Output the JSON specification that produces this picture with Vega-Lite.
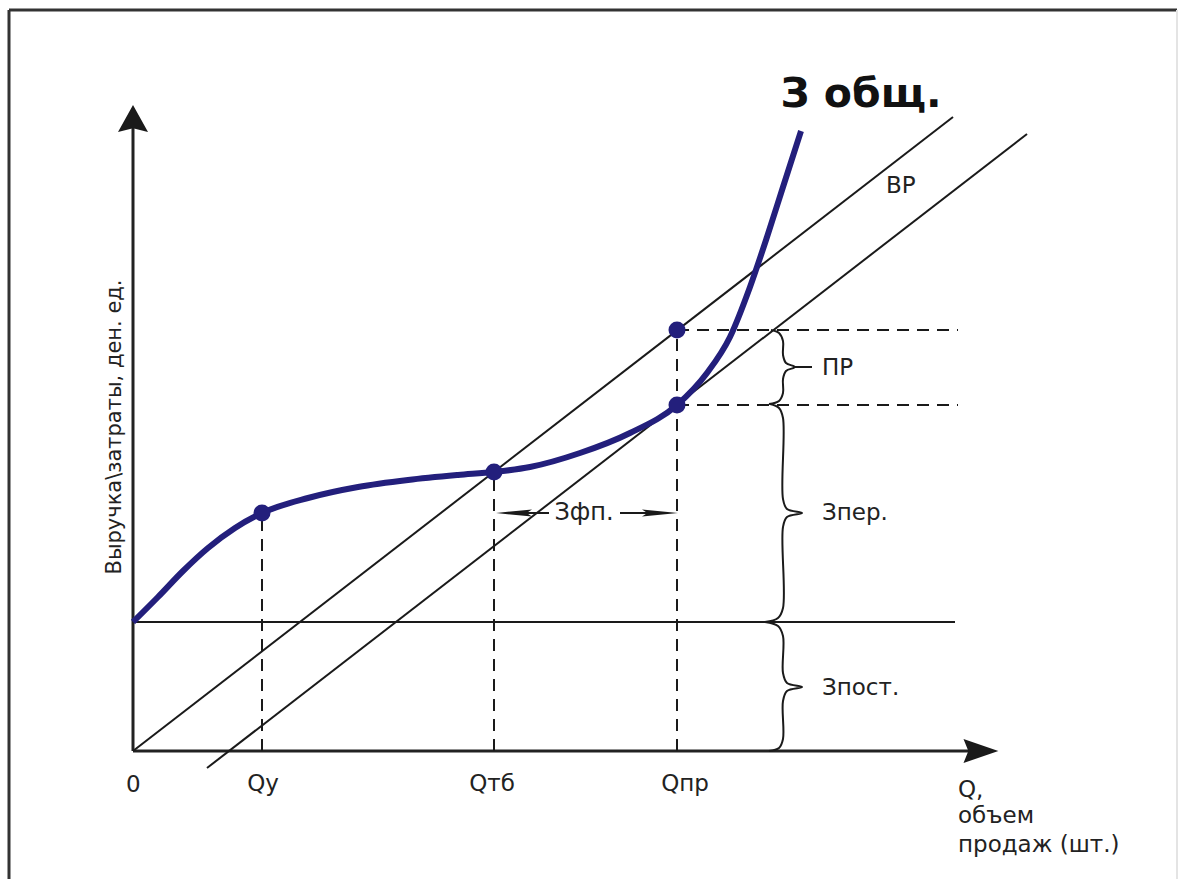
{
  "$schema": "https://vega.github.io/schema/vega-lite/v6.json",
  "width": 1181,
  "height": 884,
  "padding": 0,
  "autosize": {"type": "fit", "contains": "padding"},
  "background": "white",
  "config": {"view": {"stroke": null}},
  "datasets": {
    "rules": [
      {"kind": "frame", "x": -124, "y": 741, "x2": 1044, "y2": 741},
      {"kind": "frame", "x": -124, "y": 741, "x2": -124, "y2": -128},
      {"kind": "frameLight", "x": 1044, "y": 741, "x2": 1044, "y2": -128},
      {"kind": "axis", "x": 0, "y": 0, "x2": 0, "y2": 626},
      {"kind": "axis", "x": 0, "y": 0, "x2": 842, "y2": 0},
      {"kind": "thin", "x": 0, "y": 0, "x2": 820, "y2": 634},
      {"kind": "thin", "x": 74, "y": -17, "x2": 894, "y2": 617},
      {"kind": "thin", "x": 0, "y": 129, "x2": 822, "y2": 129},
      {"kind": "thin", "x": 375, "y": 238, "x2": 416, "y2": 238},
      {"kind": "thin", "x": 487, "y": 238, "x2": 533, "y2": 238},
      {"kind": "thin", "x": 660, "y": 384, "x2": 679, "y2": 384},
      {"kind": "dash", "x": 129, "y": 0, "x2": 129, "y2": 238},
      {"kind": "dash", "x": 361, "y": 0, "x2": 361, "y2": 279},
      {"kind": "dash", "x": 544, "y": 0, "x2": 544, "y2": 421},
      {"kind": "dash", "x": 544, "y": 421, "x2": 825, "y2": 421},
      {"kind": "dash", "x": 544, "y": 346, "x2": 825, "y2": 346}
    ],
    "curve": [
      {"x": 0, "y": 129},
      {"x": 25, "y": 154},
      {"x": 50, "y": 180},
      {"x": 75, "y": 203},
      {"x": 102, "y": 223},
      {"x": 129, "y": 238},
      {"x": 175, "y": 253},
      {"x": 225, "y": 264},
      {"x": 275, "y": 271},
      {"x": 325, "y": 276},
      {"x": 361, "y": 279},
      {"x": 397, "y": 284},
      {"x": 447, "y": 298},
      {"x": 497, "y": 318},
      {"x": 544, "y": 346},
      {"x": 574, "y": 378},
      {"x": 597, "y": 414},
      {"x": 617, "y": 464},
      {"x": 634, "y": 514},
      {"x": 650, "y": 564},
      {"x": 668, "y": 620}
    ],
    "dots": [
      {"x": 129, "y": 238},
      {"x": 361, "y": 279},
      {"x": 544, "y": 346},
      {"x": 544, "y": 421}
    ],
    "braces": [
      {"b": "ПР", "i": 1, "x": 638, "y": 421},
      {"b": "ПР", "i": 2, "x": 646, "y": 418},
      {"b": "ПР", "i": 3, "x": 650, "y": 410},
      {"b": "ПР", "i": 4, "x": 650, "y": 396},
      {"b": "ПР", "i": 5, "x": 653, "y": 388},
      {"b": "ПР", "i": 6, "x": 662, "y": 384},
      {"b": "ПР", "i": 7, "x": 653, "y": 380},
      {"b": "ПР", "i": 8, "x": 650, "y": 372},
      {"b": "ПР", "i": 9, "x": 650, "y": 358},
      {"b": "ПР", "i": 10, "x": 646, "y": 350},
      {"b": "ПР", "i": 11, "x": 636, "y": 347},
      {"b": "Зпер.", "i": 1, "x": 637, "y": 347},
      {"b": "Зпер.", "i": 2, "x": 646, "y": 343},
      {"b": "Зпер.", "i": 3, "x": 650, "y": 333},
      {"b": "Зпер.", "i": 4, "x": 650, "y": 252},
      {"b": "Зпер.", "i": 5, "x": 654, "y": 242},
      {"b": "Зпер.", "i": 6, "x": 669, "y": 238},
      {"b": "Зпер.", "i": 7, "x": 654, "y": 234},
      {"b": "Зпер.", "i": 8, "x": 650, "y": 224},
      {"b": "Зпер.", "i": 9, "x": 650, "y": 143},
      {"b": "Зпер.", "i": 10, "x": 645, "y": 133},
      {"b": "Зпер.", "i": 11, "x": 632, "y": 129},
      {"b": "Зпост.", "i": 1, "x": 632, "y": 129},
      {"b": "Зпост.", "i": 2, "x": 645, "y": 125},
      {"b": "Зпост.", "i": 3, "x": 650, "y": 115},
      {"b": "Зпост.", "i": 4, "x": 650, "y": 78},
      {"b": "Зпост.", "i": 5, "x": 654, "y": 68},
      {"b": "Зпост.", "i": 6, "x": 669, "y": 64},
      {"b": "Зпост.", "i": 7, "x": 654, "y": 60},
      {"b": "Зпост.", "i": 8, "x": 650, "y": 50},
      {"b": "Зпост.", "i": 9, "x": 650, "y": 12},
      {"b": "Зпост.", "i": 10, "x": 646, "y": 3},
      {"b": "Зпост.", "i": 11, "x": 636, "y": 0}
    ],
    "textLeft": [
      {"x": 753, "y": 558, "t": "ВР"},
      {"x": 825, "y": -46, "t": "Q,"},
      {"x": 825, "y": -72, "t": "объем"},
      {"x": 825, "y": -101, "t": "продаж (шт.)"},
      {"x": -7, "y": -41, "t": "0"}
    ],
    "textCenter": [
      {"x": 130, "y": -40, "t": "Qy"},
      {"x": 359, "y": -40, "t": "Qтб"},
      {"x": 552, "y": -40, "t": "Qпр"}
    ],
    "textMiddle": [
      {"x": 689, "y": 383, "t": "ПР"},
      {"x": 689, "y": 238, "t": "Зпер."},
      {"x": 689, "y": 63, "t": "Зпост."}
    ],
    "textMid": [
      {"x": 451, "y": 238, "t": "Зфп."}
    ],
    "title": [
      {"x": 728, "y": 644, "t": "З общ."}
    ],
    "ytitle": [
      {"x": -18, "y": 324, "t": "Выручка\\затраты, ден. ед."}
    ]
  },
  "encoding": {
    "x": {"field": "x", "type": "quantitative", "scale": {"domain": [-133, 1048], "nice": false, "zero": false}, "axis": null},
    "y": {"field": "y", "type": "quantitative", "scale": {"domain": [-133, 751], "nice": false, "zero": false}, "axis": null}
  },
  "layer": [
    {
      "data": {"name": "rules"},
      "transform": [{"filter": "datum.kind === 'frame'"}],
      "mark": {"type": "rule", "color": "#333333", "strokeWidth": 3},
      "encoding": {"x2": {"field": "x2"}, "y2": {"field": "y2"}}
    },
    {
      "data": {"name": "rules"},
      "transform": [{"filter": "datum.kind === 'frameLight'"}],
      "mark": {"type": "rule", "color": "#e4e4e4", "strokeWidth": 2},
      "encoding": {"x2": {"field": "x2"}, "y2": {"field": "y2"}}
    },
    {
      "data": {"name": "rules"},
      "transform": [{"filter": "datum.kind === 'axis'"}],
      "mark": {"type": "rule", "color": "#222222", "strokeWidth": 3},
      "encoding": {"x2": {"field": "x2"}, "y2": {"field": "y2"}}
    },
    {
      "data": {"name": "rules"},
      "transform": [{"filter": "datum.kind === 'thin'"}],
      "mark": {"type": "rule", "color": "#1a1a1a", "strokeWidth": 2},
      "encoding": {"x2": {"field": "x2"}, "y2": {"field": "y2"}}
    },
    {
      "data": {"name": "rules"},
      "transform": [{"filter": "datum.kind === 'dash'"}],
      "mark": {"type": "rule", "color": "#1a1a1a", "strokeWidth": 2, "strokeDash": [12, 8]},
      "encoding": {"x2": {"field": "x2"}, "y2": {"field": "y2"}}
    },
    {
      "data": {"name": "braces"},
      "mark": {"type": "line", "color": "#1a1a1a", "strokeWidth": 2, "interpolate": "catmull-rom"},
      "encoding": {"detail": {"field": "b"}, "order": {"field": "i", "type": "quantitative"}}
    },
    {
      "data": {"name": "curve"},
      "mark": {"type": "line", "color": "#231f7c", "strokeWidth": 6, "interpolate": "monotone", "strokeCap": "butt"}
    },
    {
      "data": {"name": "dots"},
      "mark": {"type": "circle", "color": "#231f7c", "size": 290, "opacity": 1}
    },
    {
      "data": {"values": [{"x": 0, "y": 631}]},
      "mark": {"type": "point", "shape": "M0,-1L1,0.8L0,0.55L-1,0.8Z", "size": 900, "filled": true, "color": "#1a1a1a", "opacity": 1}
    },
    {
      "data": {"values": [{"x": 846, "y": 0}]},
      "mark": {"type": "point", "shape": "M1,0L-0.8,-0.62L-0.55,0L-0.8,0.62Z", "size": 1500, "filled": true, "color": "#1a1a1a", "opacity": 1}
    },
    {
      "data": {"values": [{"x": 381, "y": 238}]},
      "mark": {"type": "point", "shape": "M-1,0L1,-0.2L0.7,0L1,0.2Z", "size": 1296, "filled": true, "color": "#1a1a1a", "opacity": 1}
    },
    {
      "data": {"values": [{"x": 527, "y": 238}]},
      "mark": {"type": "point", "shape": "M1,0L-1,-0.2L-0.7,0L-1,0.2Z", "size": 1296, "filled": true, "color": "#1a1a1a", "opacity": 1}
    },
    {
      "data": {"name": "textLeft"},
      "mark": {"type": "text", "align": "left", "baseline": "alphabetic", "font": "DejaVu Sans", "fontSize": 23, "color": "#222222"},
      "encoding": {"text": {"field": "t"}}
    },
    {
      "data": {"name": "textCenter"},
      "mark": {"type": "text", "align": "center", "baseline": "alphabetic", "font": "DejaVu Sans", "fontSize": 23, "color": "#222222"},
      "encoding": {"text": {"field": "t"}}
    },
    {
      "data": {"name": "textMiddle"},
      "mark": {"type": "text", "align": "left", "baseline": "middle", "font": "DejaVu Sans", "fontSize": 23, "color": "#222222"},
      "encoding": {"text": {"field": "t"}}
    },
    {
      "data": {"name": "textMid"},
      "mark": {"type": "text", "align": "center", "baseline": "middle", "font": "DejaVu Sans", "fontSize": 24, "color": "#222222"},
      "encoding": {"text": {"field": "t"}}
    },
    {
      "data": {"name": "title"},
      "mark": {"type": "text", "align": "center", "baseline": "alphabetic", "font": "DejaVu Sans", "fontWeight": "bold", "fontSize": 41, "color": "#111111"},
      "encoding": {"text": {"field": "t"}}
    },
    {
      "data": {"name": "ytitle"},
      "mark": {"type": "text", "align": "center", "baseline": "middle", "angle": 270, "font": "DejaVu Sans", "fontSize": 21, "color": "#222222"},
      "encoding": {"text": {"field": "t"}}
    }
  ]
}
